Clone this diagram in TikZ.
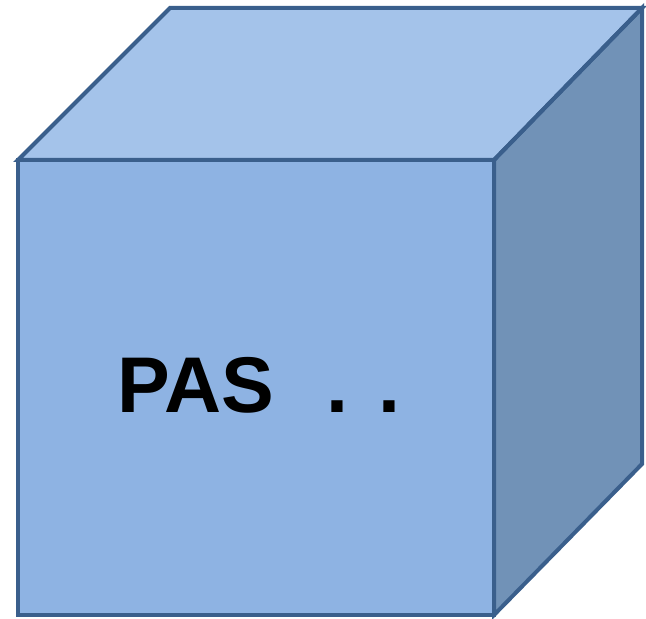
\documentclass[tikz,border=0pt]{standalone}
\usepackage{fontspec}
\setmainfont{Liberation Sans}
\definecolor{frontc}{HTML}{8EB3E3}
\definecolor{topc}{HTML}{A4C3EA}
\definecolor{sidec}{HTML}{7192B7}
\definecolor{edgec}{HTML}{3A5F8C}
\tikzset{face/.style={draw=edgec, line width=4pt, line join=miter}}
\begin{document}
\begin{tikzpicture}[x=1pt,y=1pt]
\useasboundingbox (0,0) rectangle (646,619);
\coordinate (A) at (18,4);     % front bottom left
\coordinate (B) at (494,4);    % front bottom right
\coordinate (C) at (494,459);  % front top right
\coordinate (D) at (18,459);   % front top left
\coordinate (E) at (170,611);  % back top left
\coordinate (F) at (642,611);  % back top right
\coordinate (G) at (642,155);  % back bottom right
\fill[topc] (D) -- (E) -- (F) -- (C) -- cycle;
\fill[sidec] (C) -- (F) -- (G) -- (B) -- cycle;
\fill[frontc] (A) -- (B) -- (C) -- (D) -- cycle;
\draw[face] (D) -- (E) -- (F) -- (C) -- cycle;
\draw[face] (C) -- (F) -- (G) -- (B) -- cycle;
\draw[face] (A) -- (B) -- (C) -- (D) -- cycle;
\node[font=\fontsize{79}{79}\selectfont\bfseries, anchor=base west, inner sep=0pt] (t) at (117,206) {PAS\hspace{53pt}.\hspace{30pt}.};
\end{tikzpicture}
\end{document}
